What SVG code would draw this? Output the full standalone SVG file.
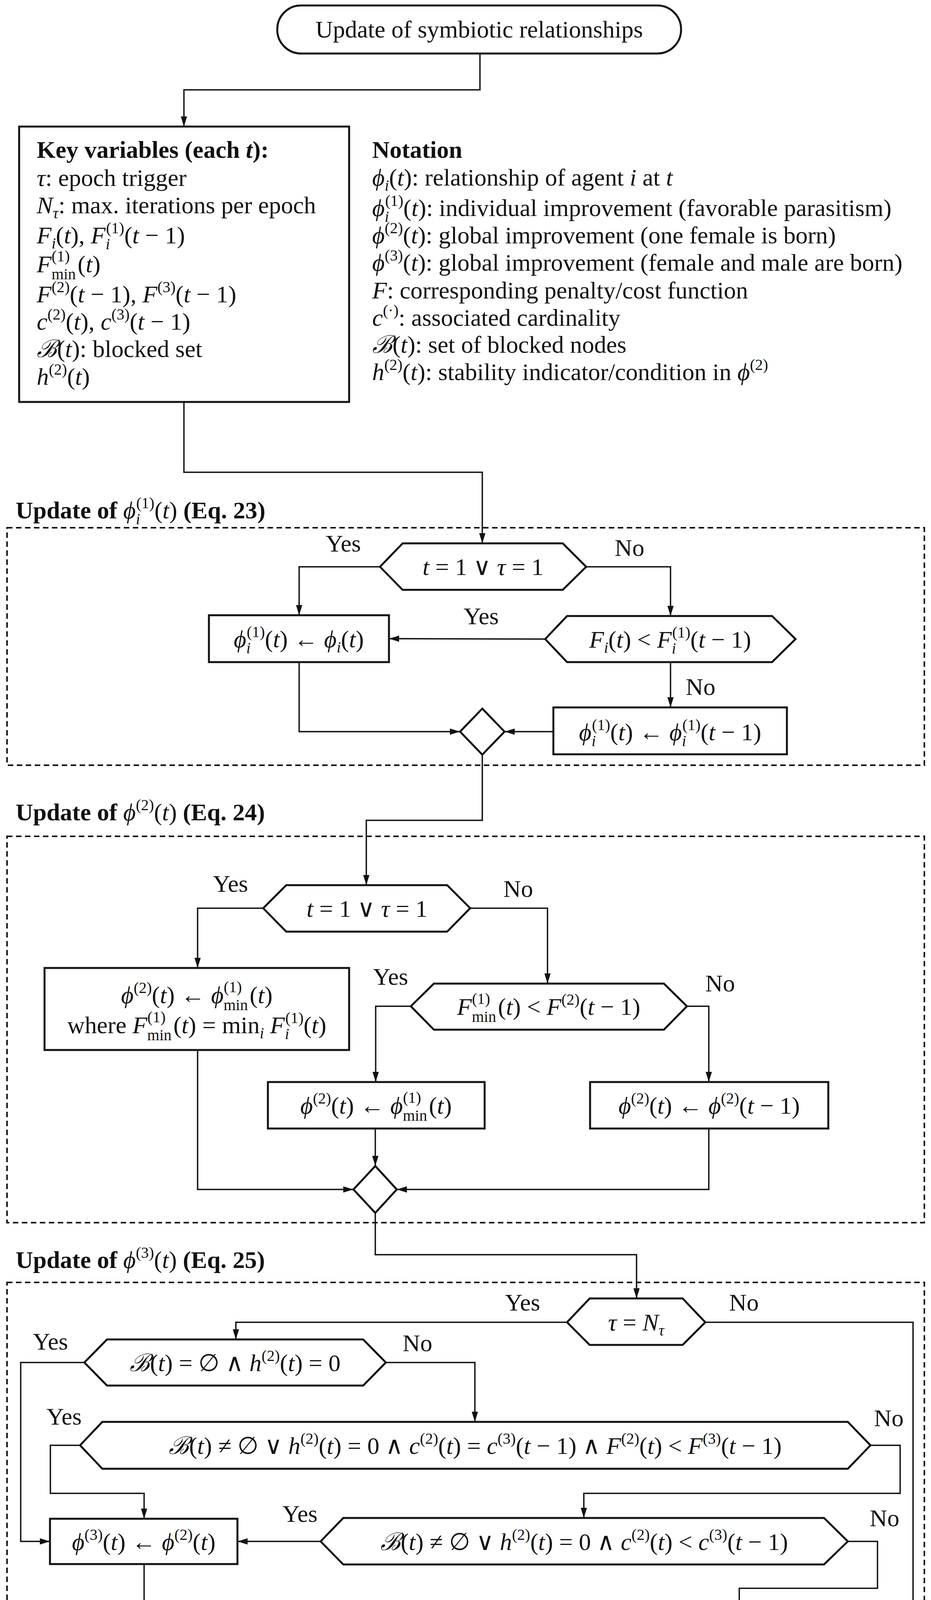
<svg xmlns="http://www.w3.org/2000/svg" width="2384" height="4481" viewBox="0 0 2384 4481">
<style>
text{font-family:"Liberation Serif","DejaVu Serif",serif;font-size:62px;fill:#111}
.c{text-anchor:middle}
.b{font-weight:bold}
.i{font-style:italic}
.s{font-size:40px}
.n{fill:#fff;stroke:#111;stroke-width:5}
.d{fill:none;stroke:#111;stroke-width:4;stroke-dasharray:14 9}
.e{fill:none;stroke:#111;stroke-width:3.5}
</style>
<defs>
<marker id="a" viewBox="0 0 26 16" refX="26" refY="8" markerWidth="26" markerHeight="16" markerUnits="userSpaceOnUse" orient="auto"><path d="M0,0L26,8L0,16z" fill="#111"/></marker>
</defs>

<g id="frames">
<rect class="d" x="18" y="1351" width="2349" height="608"/>
<rect class="d" x="18" y="2141" width="2349" height="989"/>
<rect class="d" x="18" y="3283" width="2349" height="990"/>
<text class="b" x="40" y="1327">Update of <tspan class="i" font-weight="normal">ϕ</tspan><tspan class="s i" font-weight="normal" dy="15">i</tspan><tspan class="s" font-weight="normal" dx="-10" dy="-41">(1)</tspan><tspan font-weight="normal" dy="26">(<tspan class="i">t</tspan>)</tspan>   (Eq. 23)</text>
<text class="b" x="40" y="2100">Update of <tspan class="i" font-weight="normal">ϕ</tspan><tspan class="s" font-weight="normal" dy="-26">(2)</tspan><tspan font-weight="normal" dy="26">(<tspan class="i">t</tspan>)</tspan>   (Eq. 24)</text>
<text class="b" x="40" y="3246">Update of <tspan class="i" font-weight="normal">ϕ</tspan><tspan class="s" font-weight="normal" dy="-26">(3)</tspan><tspan font-weight="normal" dy="26">(<tspan class="i">t</tspan>)</tspan>   (Eq. 25)</text>
</g>

<g id="connectors">
<polyline class="e" points="1229,137 1229,230 471,230 471,324" marker-end="url(#a)"/>
<polyline class="e" points="471,1029 471,1209 1235,1209 1235,1391" marker-end="url(#a)"/>
<polyline class="e" points="973,1451 766,1451 766,1575" marker-end="url(#a)"/>
<polyline class="e" points="1501,1451 1717,1451 1717,1577" marker-end="url(#a)"/>
<polyline class="e" points="1396,1636 996,1635" marker-end="url(#a)"/>
<polyline class="e" points="1717,1695 1717,1811" marker-end="url(#a)"/>
<polyline class="e" points="766,1695 766,1873 1178,1873" marker-end="url(#a)"/>
<polyline class="e" points="1417,1873 1292,1873" marker-end="url(#a)"/>
<polyline class="e" points="1235,1932 1235,2100 938,2100 938,2266" marker-end="url(#a)"/>
<polyline class="e" points="674,2325 506,2325 506,2478" marker-end="url(#a)"/>
<polyline class="e" points="1204,2325 1402,2325 1402,2518" marker-end="url(#a)"/>
<polyline class="e" points="1052,2576 962,2576 962,2770" marker-end="url(#a)"/>
<polyline class="e" points="1759,2576 1815,2576 1815,2770" marker-end="url(#a)"/>
<polyline class="e" points="961,2889 961,2985" marker-end="url(#a)"/>
<polyline class="e" points="506,2688 506,3045 905,3045" marker-end="url(#a)"/>
<polyline class="e" points="1815,2889 1815,3045 1016,3045" marker-end="url(#a)"/>
<polyline class="e" points="961,3105 961,3212 1630,3212 1630,3324" marker-end="url(#a)"/>
<polyline class="e" points="1452,3385 604,3385 604,3429" marker-end="url(#a)"/>
<polyline class="e" points="1806,3385 2338,3385 2338,4186 2190,4186" marker-end="url(#a)"/>
<polyline class="e" points="216,3488 53,3488 53,3946 128,3946" marker-end="url(#a)"/>
<polyline class="e" points="988,3488 1216,3488 1216,3640" marker-end="url(#a)"/>
<polyline class="e" points="205,3700 129,3700 129,3823 369,3823 369,3888" marker-end="url(#a)"/>
<polyline class="e" points="2229,3700 2305,3700 2305,3823 1495,3823 1495,3886" marker-end="url(#a)"/>
<polyline class="e" points="821,3946 608,3946" marker-end="url(#a)"/>
<polyline class="e" points="2171,3946 2247,3946 2247,4066 1893,4066 1893,4126" marker-end="url(#a)"/>
<polyline class="e" points="369,4004 369,4185 1125,4185" marker-end="url(#a)"/>
<polyline class="e" points="1599,4186 1243,4185" marker-end="url(#a)"/>
<polyline class="e" points="1184,4244 1184,4348" marker-end="url(#a)"/>
</g>

<g id="labels">
<text class="c" x="879" y="1412">Yes</text>
<text class="c" x="1612" y="1423">No</text>
<text class="c" x="1232" y="1598">Yes</text>
<text class="c" x="1794" y="1779">No</text>
<text class="c" x="590" y="2283">Yes</text>
<text class="c" x="1327" y="2296">No</text>
<text class="c" x="1000" y="2521">Yes</text>
<text class="c" x="1844" y="2538">No</text>
<text class="c" x="1338" y="3355">Yes</text>
<text class="c" x="1905" y="3355">No</text>
<text class="c" x="129" y="3455">Yes</text>
<text class="c" x="1069" y="3459">No</text>
<text class="c" x="164" y="3647">Yes</text>
<text class="c" x="2276" y="3651">No</text>
<text class="c" x="768" y="3896">Yes</text>
<text class="c" x="2265" y="3907">No</text>
</g>

<g id="start">
<rect class="n" x="710" y="14" width="1034" height="123" rx="61"/>
<text class="c" x="1227" y="96" font-size="66">Update of symbiotic relationships</text>
</g>

<g id="keyvars">
<rect class="n" x="49" y="324" width="845" height="705"/>
<text x="94" y="404" class="b">Key variables (each <tspan class="i">t</tspan>):</text>
<text x="94" y="476"><tspan class="i">τ</tspan>: epoch trigger</text>
<text x="94" y="546"><tspan class="i">N</tspan><tspan class="s i" dy="13">τ</tspan><tspan dy="-13">: max. iterations per epoch</tspan></text>
<text x="94" y="623"><tspan class="i">F</tspan><tspan class="s i" dy="13">i</tspan><tspan dy="-13">(<tspan class="i">t</tspan>), <tspan class="i">F</tspan></tspan><tspan class="s i" dy="15">i</tspan><tspan class="s" dx="-10" dy="-41">(1)</tspan><tspan dy="26">(<tspan class="i">t</tspan> − 1)</tspan></text>
<text x="94" y="697"><tspan class="i">F</tspan><tspan class="s" dy="18">min</tspan><tspan class="s" dx="-62" dy="-46">(1)</tspan><tspan dx="20" dy="28">(<tspan class="i">t</tspan>)</tspan></text>
<text x="94" y="774"><tspan class="i">F</tspan><tspan class="s" dy="-26">(2)</tspan><tspan dy="26">(<tspan class="i">t</tspan> − 1), <tspan class="i">F</tspan></tspan><tspan class="s" dy="-26">(3)</tspan><tspan dy="26">(<tspan class="i">t</tspan> − 1)</tspan></text>
<text x="94" y="844"><tspan class="i">c</tspan><tspan class="s" dy="-26">(2)</tspan><tspan dy="26">(<tspan class="i">t</tspan>), <tspan class="i">c</tspan></tspan><tspan class="s" dy="-26">(3)</tspan><tspan dy="26">(<tspan class="i">t</tspan> − 1)</tspan></text>
<text x="94" y="914"><tspan class="i">ℬ</tspan>(<tspan class="i">t</tspan>): blocked set</text>
<text x="94" y="985"><tspan class="i">h</tspan><tspan class="s" dy="-26">(2)</tspan><tspan dy="26">(<tspan class="i">t</tspan>)</tspan></text>
</g>

<g id="notation">
<text x="953" y="404" class="b">Notation</text>
<text x="953" y="475"><tspan class="i">ϕ</tspan><tspan class="s i" dy="13">i</tspan><tspan dy="-13">(<tspan class="i">t</tspan>): relationship of agent <tspan class="i">i</tspan> at <tspan class="i">t</tspan></tspan></text>
<text x="953" y="553"><tspan class="i">ϕ</tspan><tspan class="s i" dy="15">i</tspan><tspan class="s" dx="-10" dy="-41">(1)</tspan><tspan dy="26">(<tspan class="i">t</tspan>): individual improvement (favorable parasitism)</tspan></text>
<text x="953" y="623"><tspan class="i">ϕ</tspan><tspan class="s" dy="-26">(2)</tspan><tspan dy="26">(<tspan class="i">t</tspan>): global improvement (one female is born)</tspan></text>
<text x="953" y="693"><tspan class="i">ϕ</tspan><tspan class="s" dy="-26">(3)</tspan><tspan dy="26">(<tspan class="i">t</tspan>): global improvement (female and male are born)</tspan></text>
<text x="953" y="764"><tspan class="i">F</tspan>: corresponding penalty/cost function</text>
<text x="953" y="834"><tspan class="i">c</tspan><tspan class="s" dy="-26">(·)</tspan><tspan dy="26">: associated cardinality</tspan></text>
<text x="953" y="903"><tspan class="i">ℬ</tspan>(<tspan class="i">t</tspan>): set of blocked nodes</text>
<text x="953" y="973"><tspan class="i">h</tspan><tspan class="s" dy="-26">(2)</tspan><tspan dy="26">(<tspan class="i">t</tspan>): stability indicator/condition in <tspan class="i">ϕ</tspan></tspan><tspan class="s" dy="-26">(2)</tspan></text>
</g>

<g id="hex1">
<polygon class="n" points="973,1451 1031,1391 1441,1391 1501,1451 1441,1510 1031,1510"/>
<text class="c" x="1237" y="1472"><tspan class="i">t</tspan> = 1  ∨  <tspan class="i">τ</tspan> = 1</text>
</g>
<g id="box1">
<rect class="n" x="535" y="1575" width="461" height="120"/>
<text class="c" x="765" y="1657"><tspan class="i">ϕ</tspan><tspan class="s i" dy="15">i</tspan><tspan class="s" dx="-10" dy="-41">(1)</tspan><tspan dy="26">(<tspan class="i">t</tspan>) ← <tspan class="i">ϕ</tspan></tspan><tspan class="s i" dy="13">i</tspan><tspan dy="-13">(<tspan class="i">t</tspan>)</tspan></text>
</g>
<g id="hex2">
<polygon class="n" points="1396,1636 1452,1577 1977,1577 2037,1636 1977,1695 1452,1695"/>
<text class="c" x="1716" y="1658"><tspan class="i">F</tspan><tspan class="s i" dy="13">i</tspan><tspan dy="-13">(<tspan class="i">t</tspan>) &lt; <tspan class="i">F</tspan></tspan><tspan class="s i" dy="15">i</tspan><tspan class="s" dx="-10" dy="-41">(1)</tspan><tspan dy="26">(<tspan class="i">t</tspan> − 1)</tspan></text>
</g>
<g id="box2">
<rect class="n" x="1417" y="1811" width="598" height="120"/>
<text class="c" x="1716" y="1895"><tspan class="i">ϕ</tspan><tspan class="s i" dy="15">i</tspan><tspan class="s" dx="-10" dy="-41">(1)</tspan><tspan dy="26">(<tspan class="i">t</tspan>) ← <tspan class="i">ϕ</tspan></tspan><tspan class="s i" dy="15">i</tspan><tspan class="s" dx="-10" dy="-41">(1)</tspan><tspan dy="26">(<tspan class="i">t</tspan> − 1)</tspan></text>
</g>
<g id="merge1"><polygon class="n" points="1235,1814 1292,1873 1235,1932 1178,1873"/></g>

<g id="hex3">
<polygon class="n" points="674,2325 733,2266 1145,2266 1204,2325 1145,2385 733,2385"/>
<text class="c" x="940" y="2347"><tspan class="i">t</tspan> = 1  ∨  <tspan class="i">τ</tspan> = 1</text>
</g>
<g id="box3">
<rect class="n" x="114" y="2478" width="780" height="210"/>
<text class="c" x="504" y="2568"><tspan class="i">ϕ</tspan><tspan class="s" dy="-26">(2)</tspan><tspan dy="26">(<tspan class="i">t</tspan>) ← <tspan class="i">ϕ</tspan></tspan><tspan class="s" dy="18">min</tspan><tspan class="s" dx="-62" dy="-46">(1)</tspan><tspan dx="20" dy="28">(<tspan class="i">t</tspan>)</tspan></text>
<text class="c" x="504" y="2645">where <tspan class="i">F</tspan><tspan class="s" dy="18">min</tspan><tspan class="s" dx="-62" dy="-46">(1)</tspan><tspan dx="20" dy="28">(<tspan class="i">t</tspan>) = min</tspan><tspan class="s i" dy="13">i</tspan><tspan dy="-13"> <tspan class="i">F</tspan></tspan><tspan class="s i" dy="15">i</tspan><tspan class="s" dx="-10" dy="-41">(1)</tspan><tspan dy="26">(<tspan class="i">t</tspan>)</tspan></text>
</g>
<g id="hex4">
<polygon class="n" points="1052,2576 1111,2518 1700,2518 1759,2576 1700,2636 1111,2636"/>
<text class="c" x="1405" y="2598"><tspan class="i">F</tspan><tspan class="s" dy="18">min</tspan><tspan class="s" dx="-62" dy="-46">(1)</tspan><tspan dx="20" dy="28">(<tspan class="i">t</tspan>) &lt; <tspan class="i">F</tspan></tspan><tspan class="s" dy="-26">(2)</tspan><tspan dy="26">(<tspan class="i">t</tspan> − 1)</tspan></text>
</g>
<g id="box4">
<rect class="n" x="686" y="2770" width="555" height="119"/>
<text class="c" x="963" y="2851"><tspan class="i">ϕ</tspan><tspan class="s" dy="-26">(2)</tspan><tspan dy="26">(<tspan class="i">t</tspan>) ← <tspan class="i">ϕ</tspan></tspan><tspan class="s" dy="18">min</tspan><tspan class="s" dx="-62" dy="-46">(1)</tspan><tspan dx="20" dy="28">(<tspan class="i">t</tspan>)</tspan></text>
</g>
<g id="box5">
<rect class="n" x="1511" y="2770" width="610" height="119"/>
<text class="c" x="1816" y="2851"><tspan class="i">ϕ</tspan><tspan class="s" dy="-26">(2)</tspan><tspan dy="26">(<tspan class="i">t</tspan>) ← <tspan class="i">ϕ</tspan></tspan><tspan class="s" dy="-26">(2)</tspan><tspan dy="26">(<tspan class="i">t</tspan> − 1)</tspan></text>
</g>
<g id="merge2"><polygon class="n" points="961,2985 1016,3045 961,3105 905,3045"/></g>

<g id="hex5">
<polygon class="n" points="1452,3385 1510,3324 1748,3324 1806,3385 1748,3443 1510,3443"/>
<text class="c" x="1629" y="3406"><tspan class="i">τ</tspan> = <tspan class="i">N</tspan><tspan class="s i" dy="13">τ</tspan></text>
</g>
<g id="hex6">
<polygon class="n" points="216,3488 274,3429 930,3429 988,3488 930,3547 274,3547"/>
<text class="c" x="602" y="3510"><tspan class="i">ℬ</tspan>(<tspan class="i">t</tspan>) = ∅  ∧  <tspan class="i">h</tspan><tspan class="s" dy="-26">(2)</tspan><tspan dy="26">(<tspan class="i">t</tspan>) = 0</tspan></text>
</g>
<g id="hex7">
<polygon class="n" points="205,3700 262,3640 2171,3640 2229,3700 2171,3760 262,3760"/>
<text class="c" x="1217" y="3722"><tspan class="i">ℬ</tspan>(<tspan class="i">t</tspan>) ≠ ∅  ∨  <tspan class="i">h</tspan><tspan class="s" dy="-26">(2)</tspan><tspan dy="26">(<tspan class="i">t</tspan>) = 0  ∧  <tspan class="i">c</tspan></tspan><tspan class="s" dy="-26">(2)</tspan><tspan dy="26">(<tspan class="i">t</tspan>) = <tspan class="i">c</tspan></tspan><tspan class="s" dy="-26">(3)</tspan><tspan dy="26">(<tspan class="i">t</tspan> − 1)  ∧  <tspan class="i">F</tspan></tspan><tspan class="s" dy="-26">(2)</tspan><tspan dy="26">(<tspan class="i">t</tspan>) &lt; <tspan class="i">F</tspan></tspan><tspan class="s" dy="-26">(3)</tspan><tspan dy="26">(<tspan class="i">t</tspan> − 1)</tspan></text>
</g>
<g id="hex8">
<polygon class="n" points="821,3946 879,3886 2110,3886 2171,3946 2110,4005 879,4005"/>
<text class="c" x="1496" y="3968"><tspan class="i">ℬ</tspan>(<tspan class="i">t</tspan>) ≠ ∅  ∨  <tspan class="i">h</tspan><tspan class="s" dy="-26">(2)</tspan><tspan dy="26">(<tspan class="i">t</tspan>) = 0  ∧  <tspan class="i">c</tspan></tspan><tspan class="s" dy="-26">(2)</tspan><tspan dy="26">(<tspan class="i">t</tspan>) &lt; <tspan class="i">c</tspan></tspan><tspan class="s" dy="-26">(3)</tspan><tspan dy="26">(<tspan class="i">t</tspan> − 1)</tspan></text>
</g>
<g id="box7">
<rect class="n" x="128" y="3888" width="480" height="116"/>
<text class="c" x="368" y="3968"><tspan class="i">ϕ</tspan><tspan class="s" dy="-26">(3)</tspan><tspan dy="26">(<tspan class="i">t</tspan>) ← <tspan class="i">ϕ</tspan></tspan><tspan class="s" dy="-26">(2)</tspan><tspan dy="26">(<tspan class="i">t</tspan>)</tspan></text>
</g>
<g id="box8">
<rect class="n" x="1599" y="4126" width="591" height="117"/>
<text class="c" x="1894" y="4208"><tspan class="i">ϕ</tspan><tspan class="s" dy="-26">(3)</tspan><tspan dy="26">(<tspan class="i">t</tspan>) ← <tspan class="i">ϕ</tspan></tspan><tspan class="s" dy="-26">(3)</tspan><tspan dy="26">(<tspan class="i">t</tspan> − 1)</tspan></text>
</g>
<g id="merge3"><polygon class="n" points="1184,4126 1243,4185 1184,4244 1125,4185"/></g>
<g id="end">
<rect class="n" x="1064" y="4348" width="239" height="120" rx="60"/>
<text class="c" x="1184" y="4430">end</text>
</g>
</svg>
